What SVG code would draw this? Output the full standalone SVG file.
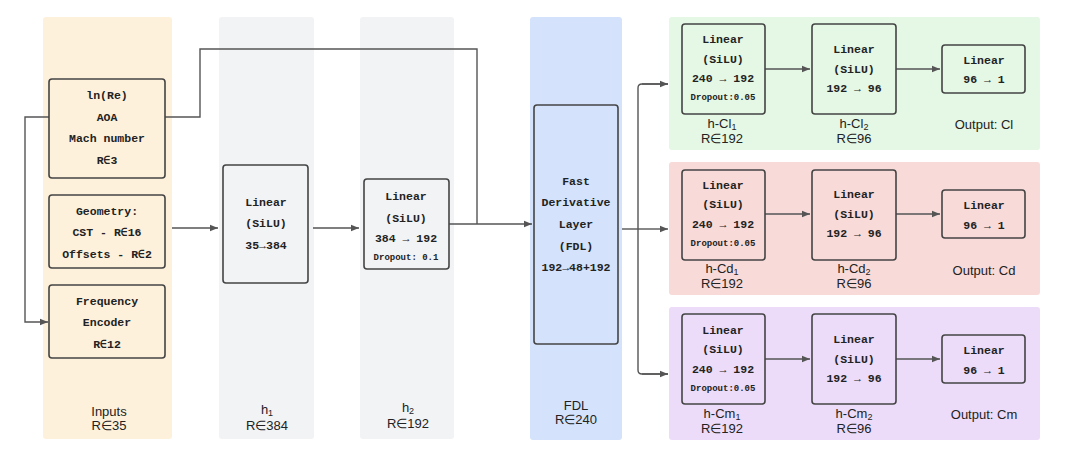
<svg xmlns="http://www.w3.org/2000/svg" width="1077" height="456" viewBox="0 0 1077 456">
<defs>
<marker id="ah" viewBox="0 0 10 10" refX="10" refY="5" markerWidth="8" markerHeight="8" markerUnits="userSpaceOnUse" orient="auto"><path d="M0,1 L10,5 L0,9 z" fill="#555"/></marker>
<style>
.box{stroke:#444;stroke-width:1.6}
.m{font-family:"Liberation Mono",monospace;font-size:11.5px;font-weight:bold;fill:#222;text-anchor:middle}
.s{font-size:9px}
.l{font-family:"Liberation Sans",Arial,sans-serif;font-size:13px;fill:#222;text-anchor:middle}
.c{fill:none;stroke:#555;stroke-width:1.4}
</style>
</defs>
<rect width="1077" height="456" fill="#fff"/>
<g id="columns">
<rect x="43" y="17" width="129" height="422" rx="3" fill="#fdf1dc"/>
<rect x="219" y="17" width="95" height="422" rx="3" fill="#f2f3f5"/>
<rect x="360" y="17" width="94" height="422" rx="3" fill="#f2f3f5"/>
<rect x="530" y="17" width="92" height="423" rx="3" fill="#d4e3fb"/>
<rect x="669" y="17" width="371" height="133" rx="3" fill="#e5f7e5"/>
<rect x="669" y="162" width="371" height="133" rx="3" fill="#f8dad9"/>
<rect x="669" y="307" width="371" height="133" rx="3" fill="#ecdcf9"/>
<text class="l" x="109" y="416">Inputs</text><text class="l" x="109" y="430">R∈35</text>
<text class="l" x="267" y="414">h<tspan font-size="9" dy="2">1</tspan></text><text class="l" x="267" y="430">R∈384</text>
<text class="l" x="408" y="412">h<tspan font-size="9" dy="2">2</tspan></text><text class="l" x="408" y="428">R∈192</text>
<text class="l" x="576" y="410">FDL</text><text class="l" x="576" y="424">R∈240</text>
</g>
<g id="connectors">
<path class="c" d="M90,117 H25 V322 H48" marker-end="url(#ah)"/>
<path class="c" d="M125,117 H200 V49 H477 V224"/>
<path class="c" d="M172,228 H218" marker-end="url(#ah)"/>
<path class="c" d="M313,228 H359" marker-end="url(#ah)"/>
<path class="c" d="M449,224 H532" marker-end="url(#ah)"/>
<path class="c" d="M622,229 H638"/>
<path class="c" d="M668,84 H642 Q638,84 638,88 V370 Q638,374 642,374 H668"/>
<path class="c" d="M642,84 H668" marker-end="url(#ah)"/>
<path class="c" d="M638,229 H668" marker-end="url(#ah)"/>
<path class="c" d="M642,374 H668" marker-end="url(#ah)"/>
<path class="c" d="M765,69 H810" marker-end="url(#ah)"/>
<path class="c" d="M896,69 H940" marker-end="url(#ah)"/>
<path class="c" d="M765,214 H810" marker-end="url(#ah)"/>
<path class="c" d="M896,214 H940" marker-end="url(#ah)"/>
<path class="c" d="M765,359 H810" marker-end="url(#ah)"/>
<path class="c" d="M896,359 H940" marker-end="url(#ah)"/>
</g>
<g id="in1"><rect class="box" x="49" y="79" width="116" height="99" rx="3" fill="#fdf1dc"/>
<text class="m" x="107" y="99">ln(Re)</text><text class="m" x="107" y="121">AOA</text><text class="m" x="107" y="142">Mach number</text><text class="m" x="107" y="164">R∈3</text></g>
<g id="in2"><rect class="box" x="49" y="195" width="116" height="73" rx="3" fill="#fdf1dc"/>
<text class="m" x="107" y="215">Geometry:</text><text class="m" x="107" y="236">CST - R∈16</text><text class="m" x="107" y="258">Offsets - R∈2</text></g>
<g id="in3"><rect class="box" x="49" y="285" width="116" height="73" rx="3" fill="#fdf1dc"/>
<text class="m" x="107" y="305">Frequency</text><text class="m" x="107" y="326">Encoder</text><text class="m" x="107" y="348">R∈12</text></g>
<g id="h1"><rect class="box" x="223" y="165" width="85" height="118" rx="3" fill="#f2f3f5"/>
<text class="m" x="266" y="206">Linear</text><text class="m" x="266" y="227">(SiLU)</text><text class="m" x="266" y="249">35→384</text></g>
<g id="h2"><rect class="box" x="364" y="179" width="85" height="90" rx="3" fill="#f2f3f5"/>
<text class="m" x="406" y="200">Linear</text><text class="m" x="406" y="222">(SiLU)</text><text class="m" x="406" y="242">384 → 192</text><text class="m s" x="406" y="260">Dropout: 0.1</text></g>
<g id="fdl"><rect class="box" x="534" y="105" width="84" height="239" rx="3" fill="#d4e3fb"/>
<text class="m" x="576" y="185">Fast</text><text class="m" x="576" y="206">Derivative</text><text class="m" x="576" y="228">Layer</text><text class="m" x="576" y="250">(FDL)</text><text class="m" x="576" y="271">192→48+192</text></g>
<g id="cl1"><rect class="box" x="682" y="24" width="83" height="90" rx="3" fill="#e5f7e5"/>
<text class="m" x="723" y="43">Linear</text><text class="m" x="723" y="63">(SiLU)</text><text class="m" x="723" y="82">240 → 192</text><text class="m s" x="723" y="100">Dropout:0.05</text>
<text class="l" x="722" y="128">h-Cl<tspan font-size="9" dy="2">1</tspan></text><text class="l" x="722" y="143">R∈192</text></g>
<g id="cl2"><rect class="box" x="812" y="24" width="84" height="90" rx="3" fill="#e5f7e5"/>
<text class="m" x="854" y="53">Linear</text><text class="m" x="854" y="73">(SiLU)</text><text class="m" x="854" y="92">192 → 96</text>
<text class="l" x="854" y="128">h-Cl<tspan font-size="9" dy="2">2</tspan></text><text class="l" x="854" y="143">R∈96</text></g>
<g id="cl3"><rect class="box" x="942" y="45" width="83" height="48" rx="3" fill="#e5f7e5"/>
<text class="m" x="984" y="64">Linear</text><text class="m" x="984" y="83">96 → 1</text>
<text class="l" x="984" y="129">Output: Cl</text></g>
<g id="cd1"><rect class="box" x="682" y="170" width="83" height="90" rx="3" fill="#f8dad9"/>
<text class="m" x="723" y="189">Linear</text><text class="m" x="723" y="208">(SiLU)</text><text class="m" x="723" y="228">240 → 192</text><text class="m s" x="723" y="246">Dropout:0.05</text>
<text class="l" x="722" y="273">h-Cd<tspan font-size="9" dy="2">1</tspan></text><text class="l" x="722" y="288">R∈192</text></g>
<g id="cd2"><rect class="box" x="812" y="170" width="84" height="90" rx="3" fill="#f8dad9"/>
<text class="m" x="854" y="198">Linear</text><text class="m" x="854" y="218">(SiLU)</text><text class="m" x="854" y="237">192 → 96</text>
<text class="l" x="854" y="273">h-Cd<tspan font-size="9" dy="2">2</tspan></text><text class="l" x="854" y="288">R∈96</text></g>
<g id="cd3"><rect class="box" x="942" y="190" width="83" height="48" rx="3" fill="#f8dad9"/>
<text class="m" x="984" y="209">Linear</text><text class="m" x="984" y="229">96 → 1</text>
<text class="l" x="984" y="275">Output: Cd</text></g>
<g id="cm1"><rect class="box" x="682" y="314" width="83" height="90" rx="3" fill="#ecdcf9"/>
<text class="m" x="723" y="334">Linear</text><text class="m" x="723" y="353">(SiLU)</text><text class="m" x="723" y="373">240 → 192</text><text class="m s" x="723" y="391">Dropout:0.05</text>
<text class="l" x="722" y="418">h-Cm<tspan font-size="9" dy="2">1</tspan></text><text class="l" x="722" y="433">R∈192</text></g>
<g id="cm2"><rect class="box" x="812" y="314" width="84" height="90" rx="3" fill="#ecdcf9"/>
<text class="m" x="854" y="343">Linear</text><text class="m" x="854" y="363">(SiLU)</text><text class="m" x="854" y="382">192 → 96</text>
<text class="l" x="854" y="418">h-Cm<tspan font-size="9" dy="2">2</tspan></text><text class="l" x="854" y="433">R∈96</text></g>
<g id="cm3"><rect class="box" x="942" y="335" width="83" height="48" rx="3" fill="#ecdcf9"/>
<text class="m" x="984" y="354">Linear</text><text class="m" x="984" y="374">96 → 1</text>
<text class="l" x="984" y="419">Output: Cm</text></g>
</svg>
